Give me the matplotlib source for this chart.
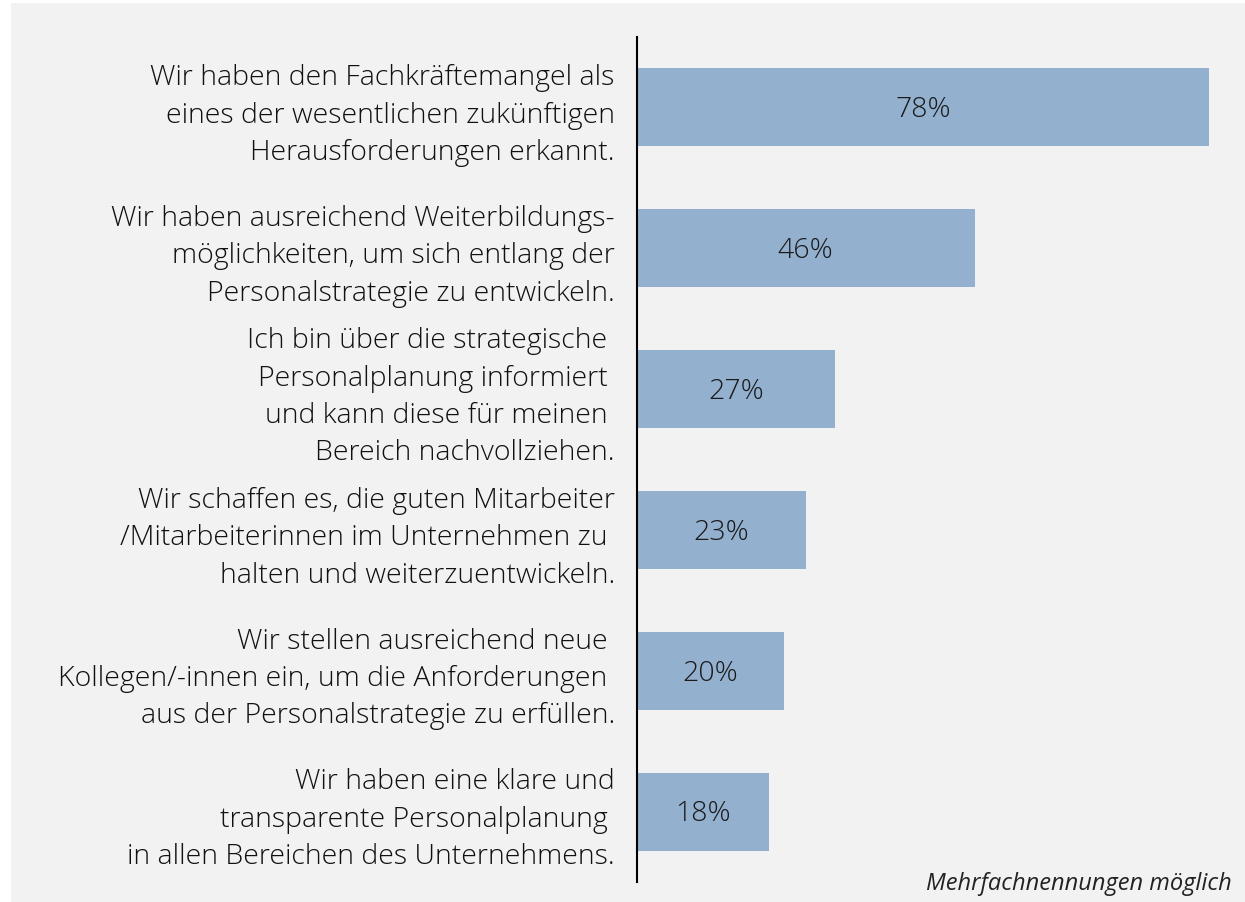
import matplotlib.pyplot as plt
from matplotlib.patches import Rectangle

# data (top to bottom)
labels = [
    "Wir haben den Fachkräftemangel als\neines der wesentlichen zukünftigen\nHerausforderungen erkannt.",
    "Wir haben ausreichend Weiterbildungs-\nmöglichkeiten, um sich entlang der\nPersonalstrategie zu entwickeln.",
    "Ich bin über die strategische \nPersonalplanung informiert \nund kann diese für meinen \nBereich nachvollziehen.",
    "Wir schaffen es, die guten Mitarbeiter\n/Mitarbeiterinnen im Unternehmen zu \nhalten und weiterzuentwickeln.",
    "Wir stellen ausreichend neue \nKollegen/-innen ein, um die Anforderungen \naus der Personalstrategie zu erfüllen.",
    "Wir haben eine klare und\ntransparente Personalplanung \nin allen Bereichen des Unternehmens.",
]
values = [78, 46, 27, 23, 20, 18]
footnote = "Mehrfachnennungen möglich"

BG = "#f2f2f2"
BAR = "#93b1cf"
FONT = ["Open Sans", "DejaVu Sans"]

plt.rcParams["font.family"] = FONT

fig = plt.figure(figsize=(12.45, 9.02), dpi=100)
fig.patch.set_facecolor("white")
# grey panel with a thin white margin at left/top
fig.add_artist(Rectangle((11 / 1245, 0), 1 - 11 / 1245, 1 - 3 / 902,
                         transform=fig.transFigure, facecolor=BG,
                         edgecolor="none", zorder=0))

ax = fig.add_axes([637 / 1245, 1 - 882 / 902, 587 / 1245, 845 / 902])
ax.set_facecolor("none")

y = list(range(len(values)))
bars = ax.barh(y, values, height=0.553, color=BAR, zorder=2)
ax.set_ylim(len(values) - 0.5, -0.5)
ax.set_xlim(0, 80)

for b, v in zip(bars, values):
    ax.text(b.get_width() / 2, b.get_y() + b.get_height() / 2 + 0.02, f"{v}%",
            ha="center", va="center", fontsize=20.5, color="#1a1a1a",
            fontweight="light")

ax.set_yticks(y)
ax.set_yticklabels(labels, fontsize=20.5, color="#111111",
                   multialignment="right", linespacing=1.45,
                   fontweight="light")
ax.tick_params(axis="y", length=0, pad=16)
ax.set_xticks([])

for s in ["top", "right", "bottom"]:
    ax.spines[s].set_visible(False)
ax.spines["left"].set_linewidth(1.5)
ax.spines["left"].set_color("black")

fig.text(1232 / 1245, 1 - 884 / 902, footnote, ha="right", va="center",
         fontsize=17, style="italic", color="#222222")

fig.savefig("out.png", dpi=100, facecolor=fig.get_facecolor())
